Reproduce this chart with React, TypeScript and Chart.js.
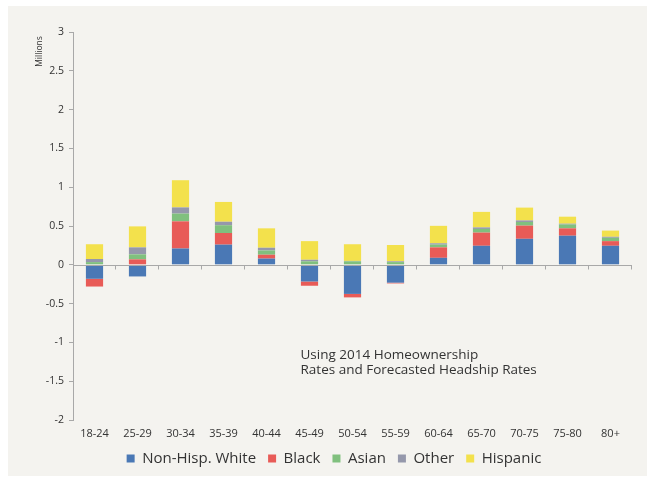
import React, { useEffect, useRef } from "react";
import { Chart, registerables } from "chart.js";

Chart.register(...registerables);

const categories = ["18-24", "25-29", "30-34", "35-39", "40-44", "45-49", "50-54", "55-59", "60-64", "65-70", "70-75", "75-80", "80+"];
const whiteValues = [-0.18, -0.15, 0.21, 0.26, 0.08, -0.215, -0.375, -0.23, 0.09, 0.245, 0.335, 0.375, 0.245];
const blackValues = [-0.1, 0.07, 0.35, 0.15, 0.05, -0.055, -0.045, -0.01, 0.135, 0.17, 0.17, 0.095, 0.06];
const asianValues = [0.035, 0.065, 0.1, 0.1, 0.055, 0.045, 0.045, 0.035, 0.035, 0.047, 0.047, 0.05, 0.043];
const otherValues = [0.04, 0.09, 0.08, 0.045, 0.035, 0.02, 0.005, 0.01, 0.017, 0.02, 0.02, 0.01, 0.013];
const hispanicValues = [0.19, 0.27, 0.35, 0.255, 0.25, 0.24, 0.215, 0.21, 0.225, 0.2, 0.165, 0.09, 0.08];
const seriesNames = ["Non-Hisp. White", "Black", "Asian", "Other", "Hispanic"];
const yAxisTitle = "Millions";
const noteLines = ["Using 2014 Homeownership", "Rates and Forecasted Headship Rates"];

const COLORS = ["#4a78b5", "#e85b57", "#80c07e", "#9598ab", "#f3e14c"];
const AXIS = "#a8a8a8";
const TEXT = "#333333";
const FONT = '"Open Sans", sans-serif';

const overlayPlugin = {
  id: "overlay",
  afterDatasetsDraw(chart: any) {
    const { ctx, chartArea, scales } = chart;
    const xs = scales.x;
    const ys = scales.y;
    const y0 = Math.round(ys.getPixelForValue(0)) + 0.5;
    ctx.save();
    ctx.strokeStyle = AXIS;
    ctx.lineWidth = 1;
    ctx.beginPath();
    ctx.moveTo(chartArea.left, y0);
    ctx.lineTo(chartArea.right, y0);
    const n = categories.length;
    for (let i = 1; i <= n; i++) {
      const px =
        i === n
          ? chartArea.right
          : (xs.getPixelForValue(i - 1) + xs.getPixelForValue(i)) / 2;
      const rx = Math.round(px) - 0.5;
      ctx.moveTo(rx, y0);
      ctx.lineTo(rx, y0 + 4);
    }
    ctx.stroke();

    ctx.fillStyle = TEXT;
    ctx.font = `13.5px ${FONT}`;
    ctx.textAlign = "left";
    ctx.textBaseline = "alphabetic";
    noteLines.forEach((line, i) => {
      ctx.fillText(line, 292.5, 353.3 + i * 14.2);
    });

    ctx.translate(31.5, 45.5);
    ctx.rotate(-Math.PI / 2);
    ctx.font = `8.5px ${FONT}`;
    ctx.textAlign = "center";
    ctx.textBaseline = "middle";
    ctx.fillText(yAxisTitle, 0, 0);
    ctx.restore();
  },
};

export default function App() {
  const canvasRef = useRef<HTMLCanvasElement | null>(null);

  useEffect(() => {
    if (!canvasRef.current) return;
    const values = [whiteValues, blackValues, asianValues, otherValues, hispanicValues];
    const chart = new Chart(canvasRef.current, {
      type: "bar",
      data: {
        labels: categories,
        datasets: values.map((v, i) => ({
          label: seriesNames[i],
          data: v,
          backgroundColor: COLORS[i],
          borderWidth: 0,
          barPercentage: 0.4,
          categoryPercentage: 1,
        })),
      },
      options: {
        responsive: false,
        animation: false,
        devicePixelRatio: 1,
        layout: { padding: { left: 28, right: 15, top: 26, bottom: 0 } },
        plugins: {
          legend: {
            position: "bottom",
            labels: {
              boxWidth: 8,
              boxHeight: 8,
              padding: 12,
              color: TEXT,
              font: { family: FONT, size: 15 },
            },
          },
          tooltip: { enabled: false },
        },
        scales: {
          x: {
            stacked: true,
            grid: { display: false, drawTicks: false },
            border: { display: false },
            ticks: { color: TEXT, font: { family: FONT, size: 11 }, padding: 7, maxRotation: 0, autoSkip: false },
            afterFit: (scale: any) => {
              scale.height = 19;
            },
          },
          y: {
            stacked: true,
            min: -2,
            max: 3,
            grid: { drawOnChartArea: false, drawTicks: true, tickLength: 4, color: AXIS },
            border: { display: true, color: AXIS },
            ticks: {
              stepSize: 0.5,
              color: TEXT,
              font: { family: FONT, size: 10.5 },
              padding: 5,
              callback: (v: any) => String(v),
            },
            afterFit: (scale: any) => {
              scale.width = 37;
            },
          },
        },
      },
      plugins: [overlayPlugin],
    });
    return () => chart.destroy();
  }, []);

  return (
    <div style={{ position: "absolute", left: 0, top: 0, width: 647, height: 479, background: "#ffffff" }}>
      <div style={{ position: "absolute", left: 8, top: 6, width: 639, height: 470, background: "#f4f3ef" }}>
        <canvas ref={canvasRef} width={639} height={470} style={{ display: "block" }} />
      </div>
    </div>
  );
}
